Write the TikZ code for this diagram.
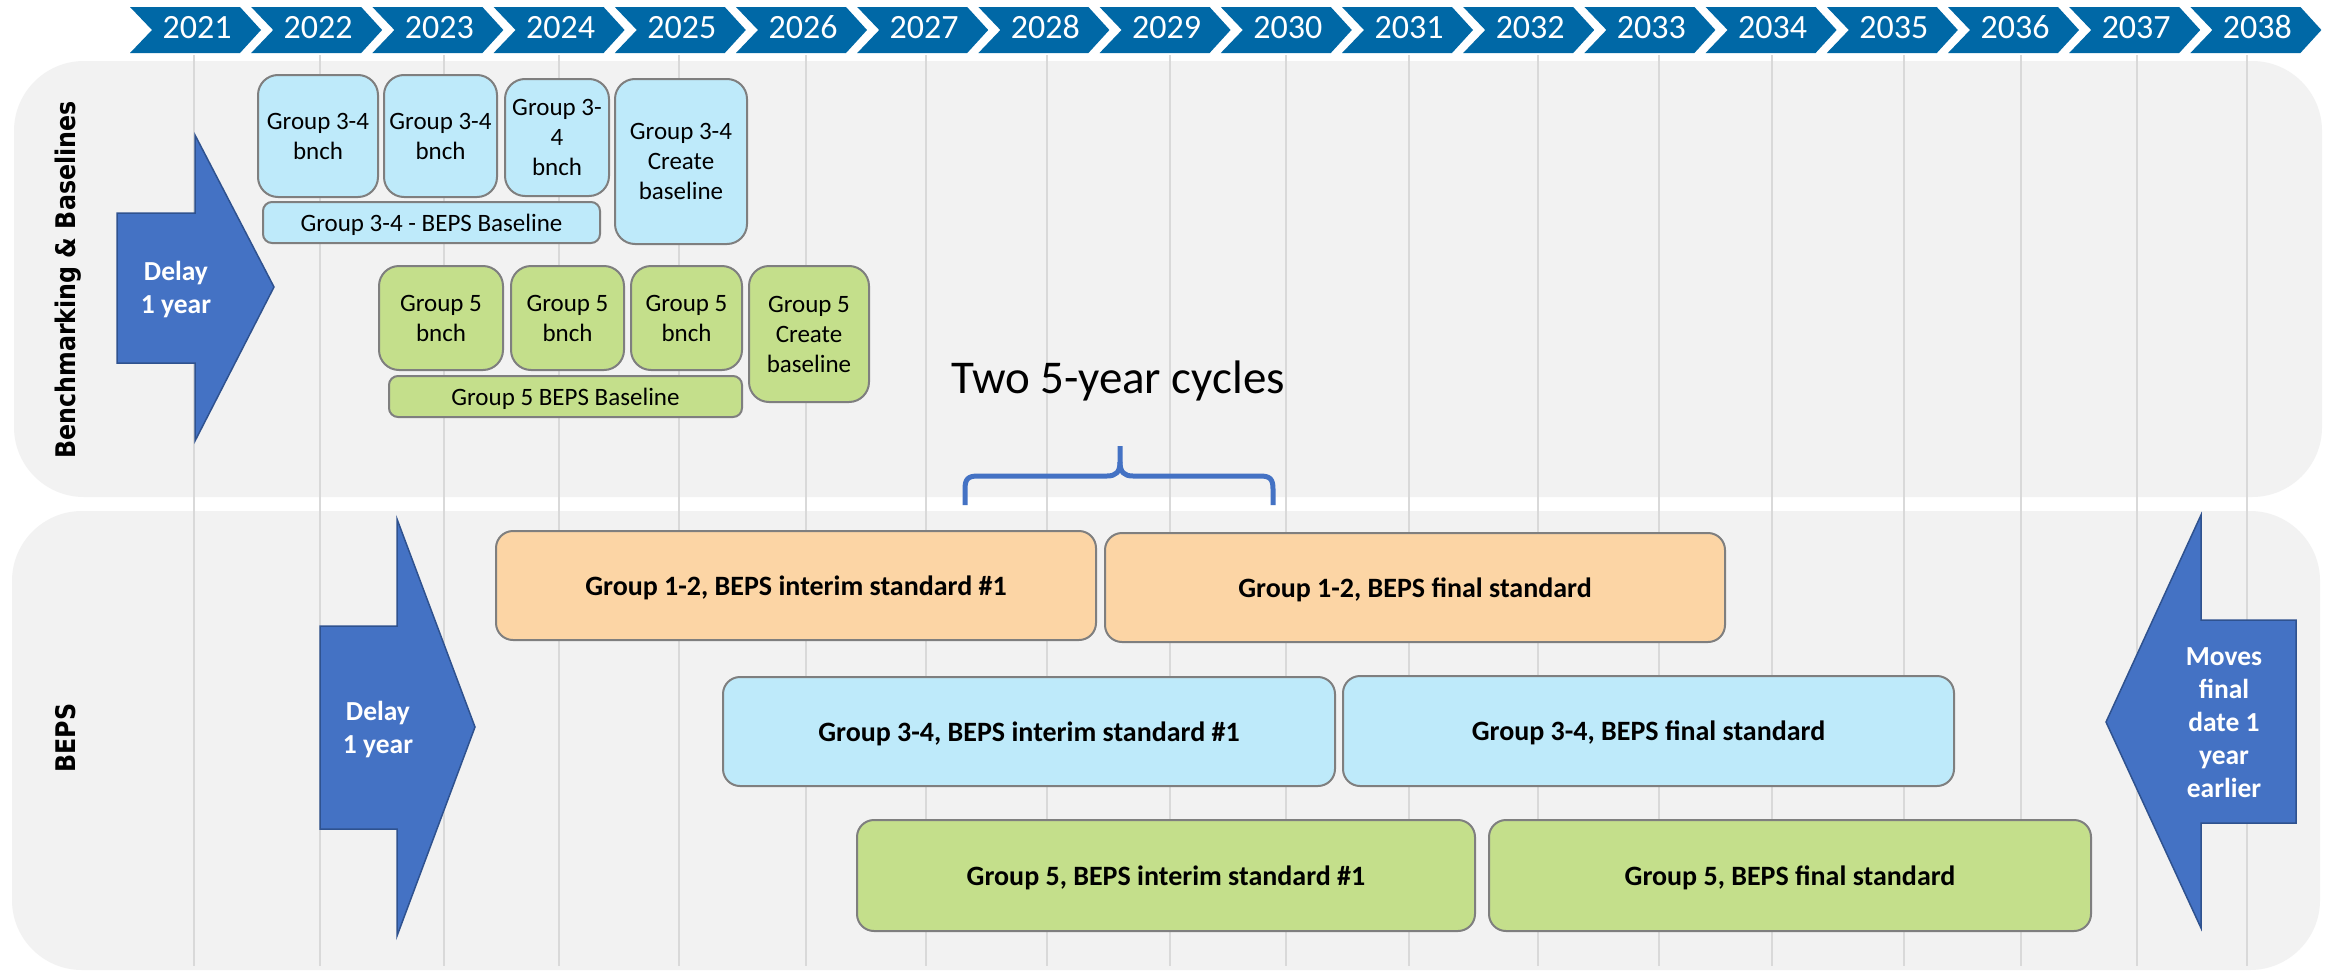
\documentclass[tikz,border=0pt]{standalone}
\usepackage{fontspec}
\setmainfont{Carlito}
\newfontfamily\vlabel{DejaVu Sans}[FakeStretch=0.88]
\definecolor{chevblue}{HTML}{0068A6}
\definecolor{panelgray}{HTML}{F2F2F2}
\definecolor{gridgray}{HTML}{D9D9D9}
\definecolor{boxgray}{HTML}{7F7F7F}
\definecolor{lblue}{HTML}{BEEAFA}
\definecolor{lgreen}{HTML}{C4DF8B}
\definecolor{lorange}{HTML}{FCD5A5}
\definecolor{arrowblue}{HTML}{4472C4}
\definecolor{arrowedge}{HTML}{2F528F}
\newcommand\tbox[7]{\node[#6, minimum width={#4-#2}, minimum height={#5-#3}] (#1) at ({(#2+#4)/2},{(#3+#5)/2}) {#7};}
\begin{document}
\begin{tikzpicture}[x=1pt,y=-1pt,
  panel/.style={fill=panelgray, rounded corners=70pt},
  gridln/.style={draw=gridgray, line width=1.6pt},
  chev/.style={fill=chevblue},
  yeartext/.style={text=white, anchor=base, inner sep=0pt, font=\fontsize{34}{40}\selectfont},
  box/.style={draw=boxgray, line width=2pt, align=center, inner sep=0pt, font=\fontsize{25}{30}\selectfont},
  bluebox/.style={box, fill=lblue, rounded corners=20pt},
  greenbox/.style={box, fill=lgreen, rounded corners=20pt},
  bluebar/.style={box, fill=lblue, rounded corners=9pt, text depth=0pt},
  greenbar/.style={box, fill=lgreen, rounded corners=9pt, text depth=0pt},
  stdbox/.style={box, rounded corners=17pt, text depth=0pt, font=\bfseries\fontsize{28}{33}\selectfont},
  blockarrow/.style={fill=arrowblue, draw=arrowedge, line width=1.5pt},
  arrowtext/.style={text=white, align=center, inner sep=0pt, font=\bfseries\fontsize{27.5}{33}\selectfont},
  bracest/.style={draw=arrowblue, line width=5pt},
  sidelabel/.style={rotate=90, anchor=base, inner sep=0pt, font=\vlabel\bfseries\fontsize{27}{32}\selectfont}
]
\useasboundingbox (0,0) rectangle (2335,972);
\fill[white] (0,0) rectangle (2335,972);
% panels
\fill[panel] (14,61) rectangle (2322,497);
\fill[panel] (12,511) rectangle (2320,970);
% grid lines
\foreach \gx in {194,320,444,559,679,806,926,1047,1170,1286,1409,1538,1659,1772,1904,2021,2137,2247}
  \draw[gridln] (\gx,55) -- (\gx,966);
% year chevrons
\foreach \yr [count=\i from 0] in {2021,2022,2023,2024,2025,2026,2027,2028,2029,2030,2031,2032,2033,2034,2035,2036,2037,2038} {
  \pgfmathsetmacro\L{130+121.2*\i}
  \fill[chev] (\L,7) -- ++(110,0) -- ++(21,23) -- ++(-21,23) -- ++(-110,0) -- ++(22,-23) -- cycle;
  \node[yeartext] (y\yr) at ({\L+67},38.5) {\yr};
}
% benchmarking boxes
\tbox{b1}{258}{75}{378}{197}{bluebox}{Group 3-4\\bnch}
\tbox{b2}{384}{75}{497}{197}{bluebox}{Group 3-4\\bnch}
\tbox{b3}{505}{79}{609}{196}{bluebox}{Group 3-\\4\\bnch}
\tbox{b4}{615}{79}{747}{244}{bluebox}{Group 3-4\\Create\\baseline}
\tbox{bb}{263}{202}{600}{243}{bluebar}{Group 3-4 - BEPS Baseline}
\tbox{g1}{379}{266}{503}{370}{greenbox}{Group 5\\bnch}
\tbox{g2}{511}{266}{624}{370}{greenbox}{Group 5\\bnch}
\tbox{g3}{631}{266}{742}{370}{greenbox}{Group 5\\bnch}
\tbox{g4}{749}{266}{869}{402}{greenbox}{Group 5\\Create\\baseline}
\tbox{gb}{389}{376}{742}{417}{greenbar}{Group 5 BEPS Baseline}
% BEPS standard boxes
\tbox{o1}{496}{531}{1096}{640}{stdbox, fill=lorange}{Group 1-2, BEPS interim standard \#1}
\tbox{o2}{1105}{533}{1725}{642}{stdbox, fill=lorange}{Group 1-2, BEPS final standard}
\tbox{c1}{723}{677}{1335}{786}{stdbox, fill=lblue}{Group 3-4, BEPS interim standard \#1}
\tbox{c2}{1343}{676}{1954}{786}{stdbox, fill=lblue}{Group 3-4, BEPS final standard}
\tbox{n1}{857}{820}{1475}{931}{stdbox, fill=lgreen}{Group 5, BEPS interim standard \#1}
\tbox{n2}{1489}{820}{2091}{931}{stdbox, fill=lgreen}{Group 5, BEPS final standard}
% block arrows
\filldraw[blockarrow] (117,213) -- (195,213) -- (195,135) -- (274,287) -- (195,441) -- (195,363) -- (117,363) -- cycle;
\node[arrowtext] (delaytop) at (176,290) {Delay\\1 year};
\filldraw[blockarrow] (320,626) -- (397,626) -- (397,519) -- (475,727) -- (397,936) -- (397,829) -- (320,829) -- cycle;
\node[arrowtext] (delaybot) at (378,730) {Delay\\1 year};
\filldraw[blockarrow] (2296,620) -- (2201,620) -- (2201,515) -- (2106,722) -- (2201,928) -- (2201,823) -- (2296,823) -- cycle;
\node[arrowtext] (moves) at (2224,723) {Moves\\final\\date 1\\year\\earlier};
% brace and its label
\node[anchor=base, inner sep=0pt, font=\fontsize{47}{56}\selectfont] (cycles) at (1118,393) {Two 5-year cycles};
\draw[bracest] (965,505) -- (965,489) .. controls (965,479) and (968,476) .. (978,476) -- (1107,476) .. controls (1116,476) and (1120,472) .. (1120,462) -- (1120,446);
\draw[bracest] (1273,505) -- (1273,489) .. controls (1273,479) and (1270,476) .. (1260,476) -- (1133,476) .. controls (1124,476) and (1120,472) .. (1120,462);
% side labels
\node[sidelabel] (lblbench) at (75,280) {Benchmarking \& Baselines};
\node[sidelabel] (lblbeps) at (75,738) {BEPS};
\end{tikzpicture}
\end{document}
